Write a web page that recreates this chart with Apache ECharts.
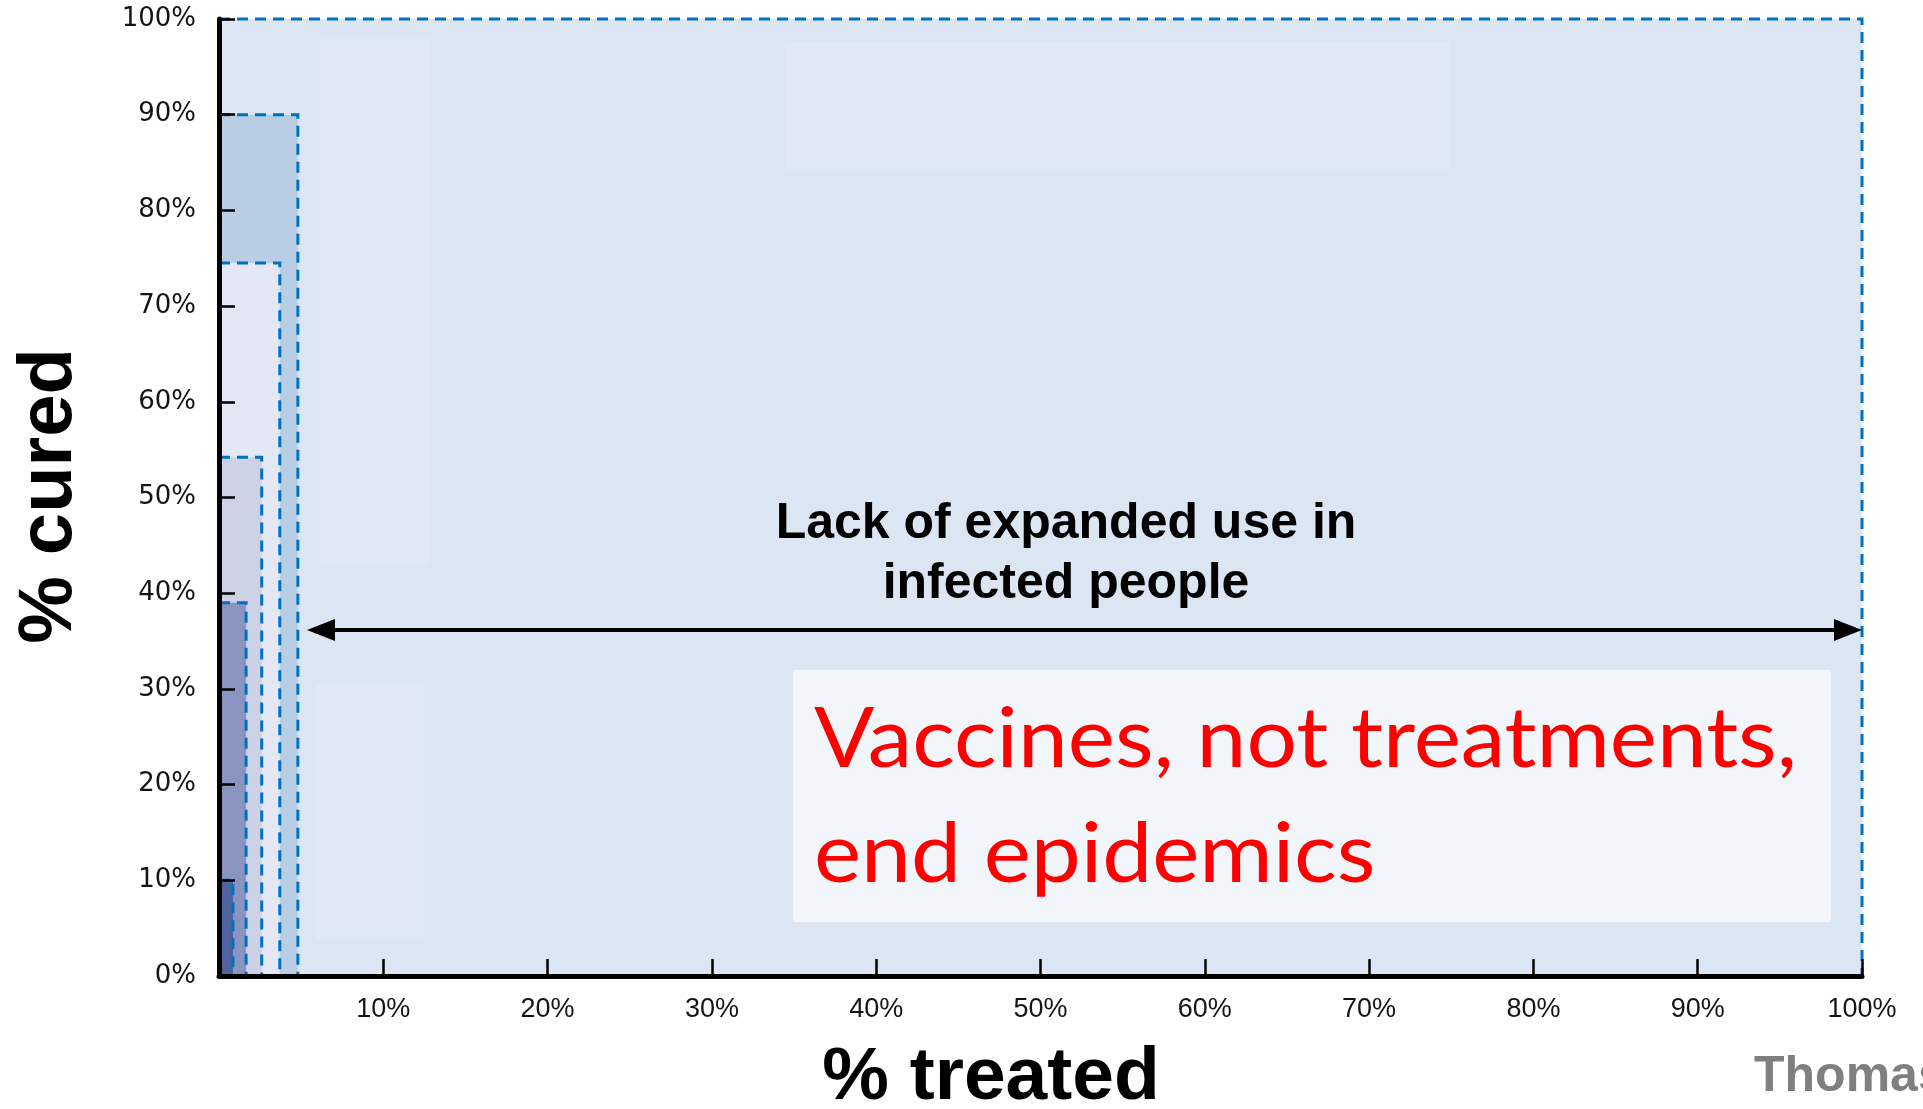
<!DOCTYPE html>
<html>
<head>
<meta charset="utf-8">
<title>% cured vs % treated</title>
<script src="https://cdn.jsdelivr.net/npm/echarts@6.0.0/dist/echarts.min.js"></script>
<style>
  html, body { margin: 0; padding: 0; background: #ffffff; }
  #chart { width: 1923px; height: 1109px; }
</style>
</head>
<body>
<div id="chart"></div>
<script>
// Nested coverage blocks, outermost first: share treated (x) and share cured (y), in percent
const blockNames = ['Everyone infected', 'Block 5', 'Block 4', 'Block 3', 'Block 2', 'Block 1'];
const treatedPct = [100, 4.8, 3.7, 2.6, 1.65, 0.85];
const curedPct = [100, 90, 74.5, 54.2, 39, 10];
const blockColors = ['#dce6f2', '#b9cde5', '#e4e8f4', '#ccd1e6', '#8994c0', '#4e64a0'];

// Axis tick labels
const xTickLabels = ['', '10%', '20%', '30%', '40%', '50%', '60%', '70%', '80%', '90%', '100%'];
const yTickLabels = ['0%', '10%', '20%', '30%', '40%', '50%', '60%', '70%', '80%', '90%', '100%'];

const chart = echarts.init(document.getElementById('chart'), null, { renderer: 'canvas' });

const blockData = treatedPct.map((x, i) => ({ name: blockNames[i], value: [x, curedPct[i]] }));

// Horizontal stretch that makes a text line span a given pixel width
function fitScaleX(text, font, targetWidth) {
  const ctx = document.createElement('canvas').getContext('2d');
  ctx.font = font;
  const w = ctx.measureText(text).width;
  return w > 0 ? targetWidth / w : 1;
}

const redFont = '84px Lato';
const redLine1 = 'Vaccines, not treatments,';
const redLine2 = 'end epidemics';
const redScale = fitScaleX(redLine1, redFont, 983);

const option = {
  animation: false,
  backgroundColor: '#ffffff',
  grid: { left: 219, right: 61, top: 19, bottom: 133, containLabel: false, outerBoundsMode: 'none' },
  xAxis: {
    type: 'value',
    min: 0,
    max: 100,
    interval: 10,
    z: 10,
    axisLine: { show: true, onZero: false, lineStyle: { color: '#000000', width: 5 } },
    axisTick: { show: true, inside: true, length: 17, lineStyle: { color: '#000000', width: 2.5 } },
    axisLabel: {
      margin: 20,
      color: '#151515',
      fontFamily: '"Liberation Sans", Arial, sans-serif',
      fontSize: 27,
      formatter: v => xTickLabels[Math.round(v / 10)]
    },
    splitLine: { show: false }
  },
  yAxis: {
    type: 'value',
    min: 0,
    max: 100,
    interval: 10,
    z: 10,
    axisLine: { show: true, onZero: false, lineStyle: { color: '#000000', width: 5 } },
    axisTick: { show: true, inside: true, length: 16, lineStyle: { color: '#000000', width: 2.5 } },
    axisLabel: {
      margin: 23,
      color: '#151515',
      fontFamily: 'DejaVu Sans',
      fontSize: 26,
      padding: [6, 0, 0, 0],
      formatter: v => yTickLabels[Math.round(v / 10)]
    },
    splitLine: { show: false }
  },
  series: [{
    type: 'custom',
    name: 'coverage',
    coordinateSystem: 'cartesian2d',
    clip: false,
    data: blockData,
    encode: { x: 0, y: 1 },
    renderItem(params, api) {
      const i = params.dataIndex;
      const origin = api.coord([0, 0]);
      const corner = api.coord([api.value(0), api.value(1)]);
      return {
        type: 'group',
        children: [
          {
            type: 'rect',
            shape: {
              x: origin[0],
              y: corner[1],
              width: corner[0] - origin[0],
              height: origin[1] - corner[1]
            },
            style: { fill: blockColors[i] }
          },
          {
            type: 'polyline',
            shape: { points: [[origin[0], corner[1]], [corner[0], corner[1]], [corner[0], origin[1]]] },
            style: { fill: null, stroke: '#0070c0', lineWidth: 3, lineDash: [11, 7] }
          }
        ]
      };
    }
  }],
  graphic: [
    // faint lighter panels inside the plot
    { type: 'rect', z: 3, shape: { x: 320, y: 37, width: 109, height: 528 }, style: { fill: '#dfe8f4' } },
    { type: 'rect', z: 3, shape: { x: 316, y: 684, width: 108, height: 255 }, style: { fill: '#dfe8f4' } },
    { type: 'rect', z: 3, shape: { x: 785, y: 42, width: 665, height: 129 }, style: { fill: '#dfe8f4' } },

    // double-headed arrow
    { type: 'line', z: 20, shape: { x1: 330, y1: 630, x2: 1838, y2: 630 }, style: { stroke: '#000000', lineWidth: 4 } },
    { type: 'polygon', z: 20, shape: { points: [[307, 630], [335, 619], [335, 641]] }, style: { fill: '#000000' } },
    { type: 'polygon', z: 20, shape: { points: [[1862, 630], [1834, 619], [1834, 641]] }, style: { fill: '#000000' } },

    // arrow caption
    {
      type: 'text', z: 20, x: 1066, y: 524,
      style: { text: 'Lack of expanded use in', font: 'bold 50px "Liberation Sans", Arial, sans-serif', fill: '#000000', align: 'center', verticalAlign: 'middle' }
    },
    {
      type: 'text', z: 20, x: 1066, y: 584,
      style: { text: 'infected people', font: 'bold 50px "Liberation Sans", Arial, sans-serif', fill: '#000000', align: 'center', verticalAlign: 'middle' }
    },

    // message box
    { type: 'rect', z: 20, shape: { x: 793, y: 670, width: 1038, height: 252 }, style: { fill: '#f2f6fb' } },
    {
      type: 'text', z: 21, x: 814, y: 740, scaleX: redScale,
      style: { text: redLine1, font: redFont, fill: '#ff0000', align: 'left', verticalAlign: 'middle' }
    },
    {
      type: 'text', z: 21, x: 814, y: 855, scaleX: redScale,
      style: { text: redLine2, font: redFont, fill: '#ff0000', align: 'left', verticalAlign: 'middle' }
    },

    // axis titles
    {
      type: 'text', z: 20, x: 50, y: 496, rotation: Math.PI / 2,
      style: { text: '% cured', font: 'bold 76px "Liberation Sans", Arial, sans-serif', fill: '#000000', align: 'center', verticalAlign: 'middle' }
    },
    {
      type: 'text', z: 20, x: 991, y: 1078,
      style: { text: '% treated', font: 'bold 75px "Liberation Sans", Arial, sans-serif', fill: '#000000', align: 'center', verticalAlign: 'middle' }
    },

    // credit
    {
      type: 'text', z: 20, x: 1754, y: 1077,
      style: { text: 'Thomas', font: 'bold 50px "Liberation Sans", Arial, sans-serif', fill: '#7f7f7f', align: 'left', verticalAlign: 'middle' }
    }
  ]
};

chart.setOption(option);
</script>
</body>
</html>
